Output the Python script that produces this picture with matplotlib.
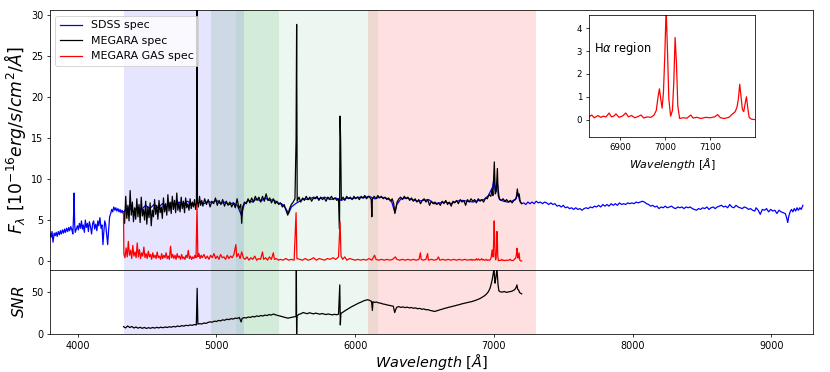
import matplotlib
matplotlib.use("Agg")
import matplotlib.pyplot as plt
import numpy as np

# SDSS spectrum (wavelength [A], flux [1e-16 erg/s/cm2/A])
sdss = [
    (3800, 3.4), (3808, 2.9), (3815, 3.6), (3822, 2.3), (3830, 3.4), (3838, 3.1), (3845, 3.5), (3852, 3.0),
    (3860, 3.6), (3868, 3.2), (3875, 3.7), (3882, 3.3), (3890, 3.8), (3898, 3.4), (3905, 3.9), (3912, 3.5),
    (3920, 4.0), (3928, 3.6), (3935, 4.1), (3942, 3.7), (3950, 4.2), (3958, 3.8), (3965, 3.3), (3970, 5.5),
    (3974, 8.3), (3978, 4.5), (3982, 3.5), (3990, 3.9), (3998, 4.3), (4005, 3.8), (4012, 4.6), (4020, 4.0),
    (4027, 4.9), (4034, 3.9), (4040, 4.4), (4048, 3.5), (4055, 5.0), (4062, 4.1), (4070, 4.6), (4077, 3.6),
    (4084, 4.8), (4092, 4.2), (4100, 3.3), (4108, 4.6), (4115, 4.9), (4122, 3.9), (4130, 4.5), (4138, 3.7),
    (4145, 4.9), (4152, 4.3), (4160, 5.3), (4168, 4.0), (4175, 4.4), (4182, 2.0), (4188, 3.5), (4195, 4.9),
    (4202, 4.4), (4210, 3.0), (4216, 2.0), (4222, 3.6), (4230, 5.4), (4238, 5.8), (4245, 6.3), (4252, 6.0),
    (4260, 6.6), (4268, 6.2), (4275, 6.5), (4282, 6.1), (4290, 6.4), (4298, 6.0), (4305, 6.3), (4312, 5.9),
    (4320, 6.2), (4328, 5.8), (4340, 6.2), (4370, 6.5), (4400, 6.0), (4430, 6.6), (4460, 6.3), (4490, 6.8),
    (4520, 6.4), (4550, 6.9), (4580, 6.5), (4610, 7.0), (4640, 6.6), (4670, 7.1), (4700, 6.8), (4730, 7.2),
    (4760, 6.9), (4790, 7.3), (4820, 7.0), (4850, 6.8), (4880, 7.2), (4910, 7.0), (4940, 7.3), (4970, 7.1),
    (5000, 7.4), (5030, 7.0), (5060, 7.2), (5090, 6.9), (5120, 7.1), (5150, 6.8), (5180, 5.6), (5200, 6.9),
    (5230, 7.4), (5260, 7.2), (5290, 7.6), (5320, 7.3), (5350, 7.7), (5380, 7.4), (5410, 7.5), (5440, 7.1),
    (5470, 7.0), (5500, 6.4), (5520, 5.8), (5540, 6.6), (5570, 7.0), (5600, 7.3), (5630, 7.6), (5660, 7.5),
    (5700, 7.8), (5740, 7.6), (5780, 7.8), (5820, 7.5), (5860, 7.7), (5900, 7.4), (5940, 7.7), (5980, 7.6),
    (6020, 7.8), (6060, 7.7), (6100, 7.9), (6140, 7.6), (6180, 7.8), (6220, 7.7), (6260, 7.4), (6285, 6.0),
    (6300, 6.9), (6330, 7.6), (6370, 7.7), (6410, 7.5), (6450, 7.3), (6490, 7.4), (6530, 7.5), (6570, 7.0),
    (6610, 7.1), (6650, 7.2), (6690, 7.0), (6730, 7.3), (6770, 7.4), (6810, 7.3), (6850, 7.2), (6890, 7.4),
    (6930, 7.5), (6960, 8.0), (6990, 9.0), (7000, 10.0), (7010, 8.5), (7025, 9.5), (7040, 7.5), (7070, 7.3),
    (7100, 7.2), (7130, 7.3), (7160, 7.6), (7170, 8.4), (7185, 7.4), (7200, 7.0), (7215, 7.1), (7230, 6.9),
    (7245, 7.2), (7260, 7.0), (7275, 7.2), (7290, 7.0), (7305, 7.3), (7320, 7.1), (7335, 7.2), (7350, 7.0),
    (7365, 7.2), (7380, 7.1), (7395, 6.9), (7410, 7.1), (7425, 6.9), (7440, 7.0), (7455, 6.7), (7470, 6.8),
    (7485, 6.6), (7500, 6.8), (7515, 6.5), (7530, 6.6), (7545, 6.4), (7560, 6.5), (7575, 6.3), (7590, 6.5),
    (7605, 6.3), (7620, 6.4), (7635, 6.2), (7650, 6.4), (7665, 6.5), (7680, 6.4), (7695, 6.6), (7710, 6.5),
    (7725, 6.7), (7740, 6.6), (7755, 6.8), (7770, 6.6), (7785, 6.9), (7800, 6.7), (7815, 6.9), (7830, 6.7),
    (7845, 7.0), (7860, 6.8), (7875, 7.0), (7890, 6.8), (7905, 7.1), (7920, 6.9), (7935, 7.0), (7950, 6.9),
    (7965, 7.1), (7980, 7.0), (7995, 7.1), (8010, 7.0), (8025, 7.2), (8040, 7.1), (8055, 7.2), (8070, 7.3),
    (8085, 7.2), (8100, 7.0), (8115, 6.9), (8130, 6.7), (8145, 6.8), (8160, 6.6), (8175, 6.7), (8190, 6.4),
    (8205, 6.6), (8220, 6.5), (8235, 6.7), (8250, 6.5), (8265, 6.6), (8280, 6.7), (8295, 6.5), (8310, 6.4),
    (8325, 6.6), (8340, 6.5), (8355, 6.6), (8370, 6.4), (8385, 6.6), (8400, 6.5), (8415, 6.6), (8430, 6.4),
    (8445, 6.3), (8460, 6.2), (8475, 6.4), (8490, 6.3), (8505, 6.5), (8520, 6.4), (8535, 6.6), (8550, 6.3),
    (8565, 6.5), (8580, 6.6), (8595, 6.4), (8610, 6.6), (8625, 6.7), (8640, 6.8), (8655, 6.6), (8670, 6.7),
    (8685, 6.5), (8700, 6.9), (8715, 6.6), (8730, 6.5), (8745, 6.8), (8760, 6.6), (8775, 6.5), (8790, 6.4),
    (8805, 6.6), (8820, 6.5), (8835, 6.3), (8850, 6.4), (8865, 6.2), (8880, 6.1), (8890, 6.5), (8905, 6.2),
    (8920, 5.7), (8935, 6.3), (8950, 6.2), (8965, 6.4), (8980, 6.0), (8995, 6.3), (9010, 6.1), (9025, 6.2),
    (9040, 5.8), (9055, 6.2), (9070, 6.0), (9085, 5.9), (9100, 5.8), (9110, 5.3), (9118, 4.7), (9126, 5.5),
    (9135, 6.0), (9145, 6.3), (9155, 6.0), (9165, 6.4), (9175, 6.1), (9185, 6.5), (9195, 6.2), (9205, 6.5),
    (9215, 6.3), (9227, 6.8),
]

# MEGARA spectrum
megara = [
    (4330, 6.0), (4338, 4.6), (4346, 7.9), (4354, 5.2), (4362, 6.8), (4370, 4.9), (4378, 8.6), (4386, 5.6),
    (4394, 7.2), (4402, 4.8), (4410, 6.5), (4418, 5.1), (4426, 7.6), (4434, 5.4), (4442, 6.9), (4450, 4.7),
    (4458, 7.8), (4466, 5.5), (4474, 6.3), (4482, 5.0), (4490, 7.3), (4498, 4.5), (4506, 6.6), (4514, 5.3),
    (4522, 7.1), (4530, 4.3), (4538, 6.2), (4546, 5.4), (4554, 7.5), (4562, 5.7), (4570, 6.8), (4578, 5.1),
    (4586, 7.4), (4594, 5.9), (4602, 6.6), (4610, 5.2), (4618, 7.7), (4626, 6.0), (4634, 7.0), (4642, 5.6),
    (4650, 8.1), (4658, 6.1), (4666, 7.2), (4674, 5.8), (4682, 7.9), (4690, 6.3), (4698, 7.4), (4706, 5.9),
    (4714, 8.3), (4722, 6.2), (4730, 7.1), (4738, 6.0), (4746, 7.8), (4754, 6.4), (4762, 7.3), (4770, 5.9),
    (4778, 7.7), (4786, 6.5), (4794, 7.0), (4802, 6.2), (4810, 7.6), (4818, 6.4), (4826, 7.2), (4834, 6.6),
    (4842, 7.5), (4850, 6.3), (4856, 7.0), (4860, 31.0), (4863, 7.2), (4870, 6.6), (4878, 7.9), (4886, 6.8),
    (4894, 7.4), (4902, 6.7), (4915, 7.6), (4928, 6.9), (4941, 7.5), (4954, 6.6), (4967, 7.3), (4980, 7.0),
    (4993, 7.7), (5006, 6.8), (5019, 7.4), (5032, 6.9), (5045, 7.5), (5058, 6.7), (5071, 7.3), (5084, 6.8),
    (5097, 7.2), (5110, 6.6), (5123, 7.1), (5136, 6.5), (5149, 7.6), (5162, 6.4), (5175, 6.9), (5182, 4.6),
    (5189, 6.6), (5202, 7.2), (5215, 7.0), (5228, 7.6), (5241, 7.1), (5254, 7.7), (5267, 7.2), (5280, 7.9),
    (5293, 7.4), (5306, 7.8), (5319, 7.2), (5332, 7.9), (5345, 7.3), (5358, 8.2), (5371, 7.4), (5384, 7.7),
    (5397, 7.1), (5410, 7.6), (5423, 7.0), (5436, 7.3), (5449, 6.9), (5462, 7.1), (5475, 6.6), (5488, 6.9),
    (5501, 6.2), (5514, 5.6), (5527, 6.4), (5540, 6.9), (5553, 7.2), (5566, 7.6), (5574, 14.8), (5578, 28.9),
    (5582, 7.3), (5595, 7.8), (5608, 7.2), (5621, 7.7), (5634, 7.4), (5647, 7.9), (5660, 7.5), (5673, 7.8),
    (5686, 7.3), (5699, 7.7), (5712, 7.6), (5725, 7.9), (5738, 7.4), (5751, 7.8), (5764, 7.5), (5777, 7.7),
    (5790, 7.3), (5803, 7.8), (5816, 7.6), (5829, 7.9), (5842, 7.5), (5855, 7.7), (5868, 7.4), (5880, 7.6),
    (5887, 3.9), (5891, 17.7), (5895, 14.8), (5900, 7.5), (5913, 7.8), (5926, 7.4), (5939, 7.9), (5952, 7.6),
    (5965, 7.8), (5978, 7.5), (5991, 7.9), (6004, 7.6), (6017, 7.8), (6030, 7.5), (6043, 7.9), (6056, 7.7),
    (6069, 8.0), (6082, 7.6), (6095, 7.9), (6108, 7.7), (6116, 7.5), (6120, 5.4), (6124, 7.6), (6137, 7.9),
    (6150, 7.6), (6163, 8.0), (6176, 7.7), (6189, 7.9), (6202, 7.6), (6215, 7.8), (6228, 7.5), (6241, 7.7),
    (6254, 7.3), (6267, 7.6), (6278, 7.0), (6286, 5.8), (6293, 6.3), (6302, 7.2), (6315, 7.6), (6328, 7.8),
    (6341, 7.5), (6354, 7.9), (6367, 7.6), (6380, 7.8), (6393, 7.4), (6406, 7.7), (6419, 7.3), (6432, 7.6),
    (6445, 7.2), (6458, 7.5), (6471, 7.0), (6484, 7.4), (6497, 7.6), (6510, 7.2), (6523, 7.5), (6536, 6.8),
    (6549, 7.3), (6562, 7.0), (6575, 7.2), (6588, 6.9), (6601, 7.1), (6614, 6.8), (6627, 7.3), (6640, 7.0),
    (6653, 7.4), (6666, 6.9), (6679, 7.2), (6692, 6.7), (6705, 7.3), (6718, 7.1), (6731, 7.4), (6744, 7.0),
    (6757, 7.5), (6770, 7.2), (6783, 7.4), (6796, 6.8), (6809, 7.5), (6822, 7.2), (6835, 7.6), (6848, 7.3),
    (6861, 7.5), (6874, 7.1), (6887, 7.6), (6900, 7.3), (6913, 7.5), (6926, 7.2), (6939, 7.7), (6952, 7.6),
    (6965, 8.1), (6978, 7.9), (6987, 8.8), (6993, 8.0), (7003, 12.1), (7010, 8.2), (7017, 8.5), (7025, 11.3),
    (7031, 8.0), (7040, 7.6), (7053, 7.4), (7066, 7.6), (7079, 7.3), (7092, 7.5), (7105, 7.2), (7118, 7.4),
    (7131, 7.1), (7144, 7.4), (7155, 7.5), (7163, 7.9), (7169, 8.8), (7175, 7.9), (7182, 8.2), (7190, 7.2),
    (7200, 7.0),
]

# MEGARA gas (emission-line) spectrum
gas = [
    (4330, 5.9), (4333, 0.8), (4341, 0.4), (4349, 1.6), (4357, 0.5), (4365, 2.4), (4373, 0.7), (4381, 1.3),
    (4389, 0.3), (4397, 1.9), (4405, 0.6), (4413, 1.1), (4421, 0.4), (4429, 2.2), (4437, 0.5), (4445, 1.4),
    (4453, 0.3), (4461, 1.0), (4469, 0.6), (4477, 1.7), (4485, 0.4), (4493, 0.9), (4501, 0.3), (4509, 1.2),
    (4517, 0.5), (4525, 0.8), (4533, 0.2), (4541, 1.0), (4549, 0.4), (4557, 0.7), (4565, 0.3), (4573, 1.1),
    (4581, 0.4), (4589, 0.6), (4597, 0.2), (4605, 0.9), (4613, 0.3), (4621, 0.7), (4629, 0.4), (4637, 1.0),
    (4645, 0.3), (4653, 0.6), (4661, 0.2), (4669, 1.8), (4677, 0.4), (4685, 0.8), (4693, 0.3), (4701, 0.7),
    (4709, 0.2), (4717, 0.9), (4725, 0.4), (4733, 0.6), (4741, 0.2), (4749, 0.8), (4757, 0.3), (4765, 0.5),
    (4773, 0.2), (4781, 0.7), (4789, 0.4), (4797, 1.3), (4805, 0.3), (4813, 0.6), (4821, 0.2), (4829, 0.5),
    (4837, 0.3), (4845, 0.7), (4853, 0.4), (4860, 6.9), (4866, 0.5), (4874, 0.9), (4882, 0.3), (4890, 0.7),
    (4898, 0.4), (4910, 0.8), (4922, 0.3), (4934, 0.6), (4946, 0.2), (4958, 0.7), (4970, 0.4), (4982, 0.9),
    (4994, 0.3), (5006, 0.6), (5018, 0.2), (5030, 0.8), (5042, 0.4), (5054, 0.5), (5066, 0.2), (5078, 0.7),
    (5090, 0.3), (5102, 0.6), (5114, 0.4), (5126, 0.8), (5140, 2.0), (5146, 0.5), (5158, 0.9), (5170, 0.3),
    (5182, 1.1), (5194, 0.4), (5206, 0.2), (5220, 0.5), (5234, 0.1), (5248, 0.4), (5262, 0.2), (5276, 0.6),
    (5290, 0.1), (5304, 0.3), (5318, 0.2), (5332, 1.1), (5340, 0.2), (5354, 0.4), (5368, 0.1), (5382, 0.5),
    (5396, 0.2), (5410, 1.0), (5418, 0.2), (5432, 0.3), (5446, 0.1), (5460, 0.2), (5480, 0.1), (5500, 0.3),
    (5520, 0.1), (5540, 0.2), (5560, 0.1), (5574, 5.9), (5580, 0.3), (5600, 0.2), (5620, 0.1), (5640, 0.3),
    (5660, 0.1), (5680, 0.2), (5700, 0.4), (5720, 0.1), (5740, 0.3), (5760, 0.2), (5780, 0.1), (5800, 0.3),
    (5820, 0.2), (5840, 0.4), (5860, 0.2), (5880, 0.5), (5891, 4.8), (5898, 0.6), (5910, 0.2), (5925, 0.5),
    (5940, 0.1), (5960, 0.3), (5980, 0.2), (6000, 0.1), (6020, 0.2), (6040, 0.1), (6060, 0.2), (6080, 0.1),
    (6100, 0.3), (6120, 0.1), (6140, 0.7), (6150, 0.2), (6170, 0.1), (6190, 0.2), (6210, 0.1), (6230, 0.2),
    (6250, 0.1), (6270, 0.2), (6290, 0.5), (6300, 0.2), (6320, 0.1), (6340, 0.2), (6360, 0.1), (6380, 0.2),
    (6400, 0.1), (6420, 0.2), (6440, 0.1), (6460, 0.2), (6470, 1.0), (6476, 0.2), (6490, 0.1), (6510, 0.2),
    (6522, 0.9), (6528, 0.1), (6550, 0.2), (6570, 0.1), (6590, 0.2), (6600, 0.5), (6610, 0.1), (6630, 0.2),
    (6650, 0.1), (6670, 0.2), (6690, 0.1), (6710, 0.2), (6730, 0.1), (6750, 0.2), (6770, 0.1), (6790, 0.2),
    (6810, 0.1), (6822, 0.16), (6830, 0.12), (6836, 0.2), (6842, 0.08), (6850, 0.18), (6856, 0.1),
    (6862, 0.15), (6868, 0.12), (6875, 0.29), (6880, 0.12), (6886, 0.16), (6890, 0.25), (6897, 0.1),
    (6905, 0.16), (6912, 0.29), (6918, 0.12), (6925, 0.18), (6932, 0.08), (6940, 0.14), (6946, 0.2),
    (6952, 0.07), (6960, 0.12), (6968, 0.1), (6975, 0.2), (6980, 0.4), (6984, 1.0), (6987, 1.35),
    (6990, 0.9), (6993, 0.5), (6996, 1.2), (6999, 2.8), (7002, 4.9), (7005, 3.0), (7008, 0.9), (7012, 0.15),
    (7016, 0.4), (7019, 1.6), (7022, 3.6), (7025, 2.5), (7028, 0.6), (7032, 0.05), (7040, 0.08), (7048, 0.06),
    (7057, 0.2), (7062, 0.07), (7070, 0.1), (7080, 0.05), (7090, 0.1), (7100, 0.08), (7110, 0.12), (7117, 0.22),
    (7123, 0.08), (7132, 0.05), (7142, 0.1), (7150, 0.25), (7156, 0.35), (7160, 0.55), (7163, 0.9),
    (7166, 1.55), (7169, 1.0), (7172, 0.45), (7175, 0.35), (7178, 0.7), (7181, 1.0), (7184, 0.5), (7187, 0.1),
    (7192, 0.02), (7200, 0.0),
]

# MEGARA signal-to-noise ratio
snr = [
    (4330, 9.0), (4345, 7.5), (4360, 9.8), (4375, 8.0), (4390, 9.2), (4405, 7.4), (4420, 8.6), (4435, 7.2),
    (4450, 8.3), (4465, 7.0), (4480, 8.1), (4495, 6.9), (4510, 7.8), (4525, 7.1), (4540, 8.0), (4555, 7.3),
    (4570, 8.2), (4585, 7.5), (4600, 8.4), (4615, 7.7), (4630, 8.6), (4645, 8.0), (4660, 8.9), (4675, 8.3),
    (4690, 9.3), (4705, 8.7), (4720, 9.8), (4735, 9.1), (4750, 10.2), (4765, 9.6), (4780, 10.6), (4795, 10.1),
    (4810, 11.0), (4825, 10.5), (4840, 11.5), (4855, 11.0), (4861, 54.0), (4866, 12.0), (4880, 12.5),
    (4895, 12.1), (4910, 13.3), (4925, 12.8), (4940, 14.0), (4955, 14.6), (4970, 14.2), (4985, 15.5),
    (5000, 15.0), (5015, 16.3), (5030, 15.8), (5045, 17.0), (5060, 16.5), (5075, 17.8), (5090, 17.2),
    (5105, 18.4), (5120, 17.9), (5135, 19.0), (5150, 18.6), (5165, 19.8), (5178, 14.5), (5185, 18.8),
    (5200, 19.6), (5215, 19.2), (5230, 20.3), (5245, 19.8), (5260, 21.0), (5275, 20.4), (5290, 21.6),
    (5305, 21.0), (5320, 22.1), (5335, 21.5), (5350, 22.6), (5365, 22.0), (5380, 23.2), (5395, 22.6),
    (5410, 23.8), (5425, 23.0), (5440, 22.2), (5455, 21.6), (5470, 21.0), (5485, 20.2), (5500, 19.6),
    (5515, 19.0), (5530, 19.5), (5545, 19.9), (5560, 20.4), (5574, 21.0), (5576, 76.0), (5578, 0.0),
    (5580, 21.5), (5595, 23.5), (5610, 24.2), (5625, 25.6), (5640, 24.8), (5655, 24.2), (5670, 25.3),
    (5685, 24.6), (5700, 24.0), (5715, 24.9), (5730, 24.2), (5745, 23.6), (5760, 24.4), (5775, 23.8),
    (5790, 23.2), (5805, 23.9), (5820, 23.3), (5835, 22.8), (5850, 23.5), (5865, 23.0), (5880, 23.6),
    (5889, 58.0), (5893, 11.0), (5897, 24.5), (5910, 25.8), (5925, 27.5), (5940, 29.0), (5955, 30.6),
    (5970, 32.0), (5985, 33.3), (6000, 34.5), (6015, 35.8), (6030, 37.0), (6045, 38.0), (6060, 39.2),
    (6075, 40.0), (6090, 40.6), (6105, 39.8), (6118, 38.6), (6124, 28.0), (6128, 38.2), (6140, 37.5),
    (6155, 37.8), (6170, 36.9), (6185, 36.5), (6200, 35.6), (6215, 35.2), (6230, 34.5), (6245, 34.0),
    (6260, 33.6), (6275, 33.0), (6285, 25.5), (6292, 29.0), (6300, 31.8), (6315, 32.5), (6330, 31.6),
    (6345, 32.2), (6360, 31.3), (6375, 31.9), (6390, 31.0), (6405, 31.5), (6420, 30.6), (6435, 31.0),
    (6450, 30.0), (6465, 30.5), (6480, 29.4), (6495, 29.8), (6510, 28.8), (6525, 29.0), (6540, 28.0),
    (6555, 27.6), (6570, 26.8), (6585, 27.4), (6600, 28.2), (6615, 29.0), (6630, 29.6), (6645, 30.5),
    (6660, 31.0), (6675, 31.8), (6690, 32.3), (6705, 33.0), (6720, 33.5), (6735, 34.3), (6750, 34.8),
    (6765, 35.6), (6780, 36.2), (6795, 36.8), (6810, 37.3), (6825, 37.9), (6840, 38.4), (6855, 39.2),
    (6870, 40.0), (6885, 41.0), (6900, 42.0), (6915, 43.5), (6930, 45.0), (6945, 47.0), (6960, 50.0),
    (6972, 54.0), (6982, 60.0), (6990, 66.0), (6996, 72.0), (7000, 77.0), (7004, 68.0), (7008, 60.0),
    (7014, 66.0), (7018, 72.0), (7022, 77.0), (7026, 68.0), (7030, 58.0), (7036, 51.0), (7045, 50.0),
    (7060, 49.5), (7075, 50.3), (7090, 49.2), (7105, 49.8), (7120, 50.2), (7135, 51.0), (7150, 52.5),
    (7160, 55.0), (7166, 58.0), (7171, 53.0), (7178, 52.0), (7185, 49.0), (7195, 48.0), (7200, 47.5),
]

# MEGARA VPH ranges shaded on the plot: (start, end, colour)
vph_ranges = [
    (4332, 5199, 'blue'),
    (4963, 5450, 'green'),
    (5143, 6168, 'mediumseagreen'),
    (6094, 7305, 'red'),
]
vph_alpha = [0.1, 0.1, 0.1, 0.12]

sdss = np.array(sdss)
megara = np.array(megara)
gas = np.array(gas)
snr = np.array(snr)

DPI = 69
LW = 1.3
fig = plt.figure(figsize=(830 / DPI, 372 / DPI), dpi=DPI)
ax1 = fig.add_axes([0.0602, 0.2742, 0.9193, 0.6976])
ax2 = fig.add_axes([0.0602, 0.1013, 0.9193, 0.1729], sharex=ax1)

for ax in (ax1, ax2):
    for (lo, hi, col), a in zip(vph_ranges, vph_alpha):
        ax.axvspan(lo, hi, color=col, alpha=a, lw=0)

ax1.plot(sdss[:, 0], sdss[:, 1], color='blue', lw=LW, label='SDSS spec')
ax1.plot(megara[:, 0], megara[:, 1], color='black', lw=LW, label='MEGARA spec')
ax1.plot(gas[:, 0], gas[:, 1], color='red', lw=LW, label='MEGARA GAS spec')
ax1.set_xlim(3800, 9300)
ax1.set_ylim(-1.1, 30.6)
ax1.set_yticks([0, 5, 10, 15, 20, 25, 30])
ax1.set_ylabel(r'$F_{\lambda}$ $[10^{-16}erg/s/cm^2/\AA]$', fontsize=18, labelpad=3)
ax1.legend(loc='upper left', fontsize=11.5)
plt.setp(ax1.get_xticklabels(), visible=False)

ax2.plot(snr[:, 0], snr[:, 1], color='black', lw=LW)
ax2.set_ylim(0, 75.5)
ax2.set_yticks([0, 50])
ax2.set_xticks([4000, 5000, 6000, 7000, 8000, 9000])
ax2.set_ylabel(r'$SNR$', fontsize=16)
ax2.set_xlabel(r'$Wavelength$ $[\AA]$', fontsize=15, labelpad=1)

# inset zoom on the H-alpha complex
axin = fig.add_axes([0.7096, 0.6325, 0.2, 0.328])
axin.plot(gas[:, 0], gas[:, 1], color='red', lw=LW)
axin.set_xlim(6830, 7200)
axin.set_ylim(-0.75, 4.6)
axin.set_xticks([6900, 7000, 7100])
axin.set_yticks([0, 1, 2, 3, 4])
axin.tick_params(labelsize=9)
axin.set_xlabel(r'$Wavelength$ $[\AA]$', fontsize=11.5)
axin.text(0.03, 0.72, r'H$\alpha$ region', transform=axin.transAxes, fontsize=12, va='center')

fig.savefig('out.png', dpi=DPI)
